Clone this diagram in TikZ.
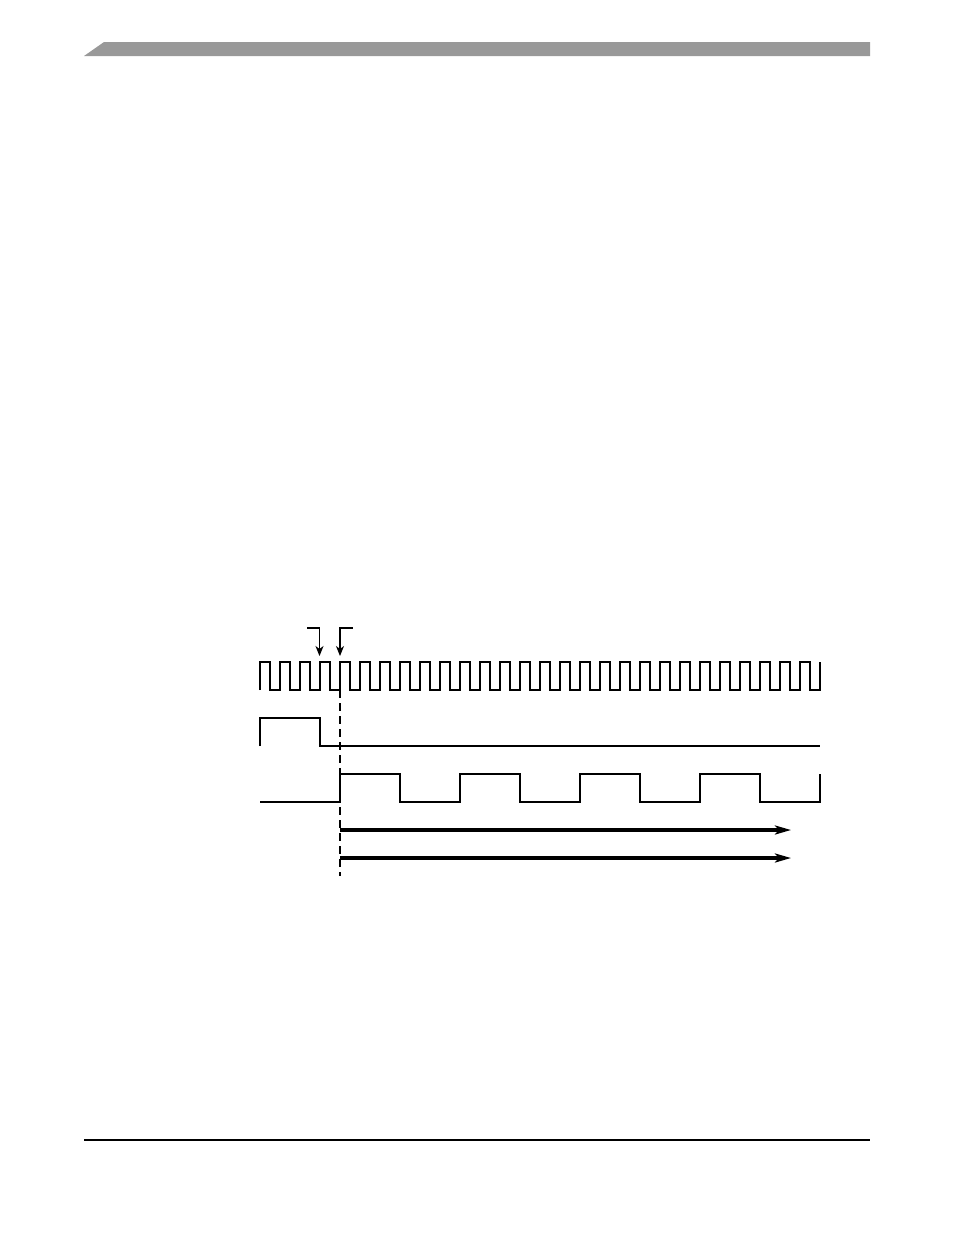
\documentclass[tikz,border=0pt]{standalone}
\usetikzlibrary{arrows.meta}
\definecolor{hdrgray}{RGB}{153,153,153}
\tikzset{
  sig/.style={line width=1.2pt, line join=miter},
  thickarrow/.style={line width=3.3pt, -{Stealth[length=16pt,width=9pt,inset=4pt]}},
  smallarrow/.style={line width=1.2pt, -{Stealth[length=10pt,width=8pt,inset=3pt]}},
  dashline/.style={line width=1.2pt, dash pattern=on 8pt off 5pt}
}
\begin{document}
\begin{tikzpicture}[x=1pt,y=-1pt]
\useasboundingbox (0,0) rectangle (954,1235);
% header bar
\fill[hdrgray] (84,56) -- (104,42) -- (870,42) -- (870,56) -- cycle;
% footer line
\coordinate (fl) at (84,1140);
\coordinate (fr) at (870,1140);
\draw[line width=1.5pt] (fl) -- (fr);
% clock
\draw[sig] (260,690) -- (260,662)
  \foreach \k in {0,...,27} { -- ({270+20*\k},662) -- ({270+20*\k},690) -- ({280+20*\k},690) -- ({280+20*\k},662) };
% second signal
\draw[sig] (260,746) -- (260,718) -- (320,718) -- (320,746) -- (820,746);
% third signal
\draw[sig] (260,802) -- (340,802) -- (340,774) -- (400,774) -- (400,802) -- (460,802) -- (460,774) -- (520,774) -- (520,802) -- (580,802) -- (580,774) -- (640,774) -- (640,802) -- (700,802) -- (700,774) -- (760,774) -- (760,802) -- (820,802) -- (820,774);
% dashed reference line
\coordinate (dtop) at (340,690);
\coordinate (dbot) at (340,876);
\draw[dashline] (dtop) -- (dbot);
% small arrows
\coordinate (a1s) at (307,628);
\coordinate (a1c) at (319.5,628);
\coordinate (a1e) at (319.5,656);
\coordinate (a2s) at (352.5,628);
\coordinate (a2c) at (340,628);
\coordinate (a2e) at (340,656);
\draw[smallarrow] (a1s) -- (a1c) -- (a1e);
\draw[smallarrow] (a2s) -- (a2c) -- (a2e);
% thick arrows
\coordinate (t1s) at (340,830);
\coordinate (t1e) at (791,830);
\coordinate (t2s) at (340,858);
\coordinate (t2e) at (791,858);
\draw[thickarrow] (t1s) -- (t1e);
\draw[thickarrow] (t2s) -- (t2e);
\end{tikzpicture}
\end{document}
